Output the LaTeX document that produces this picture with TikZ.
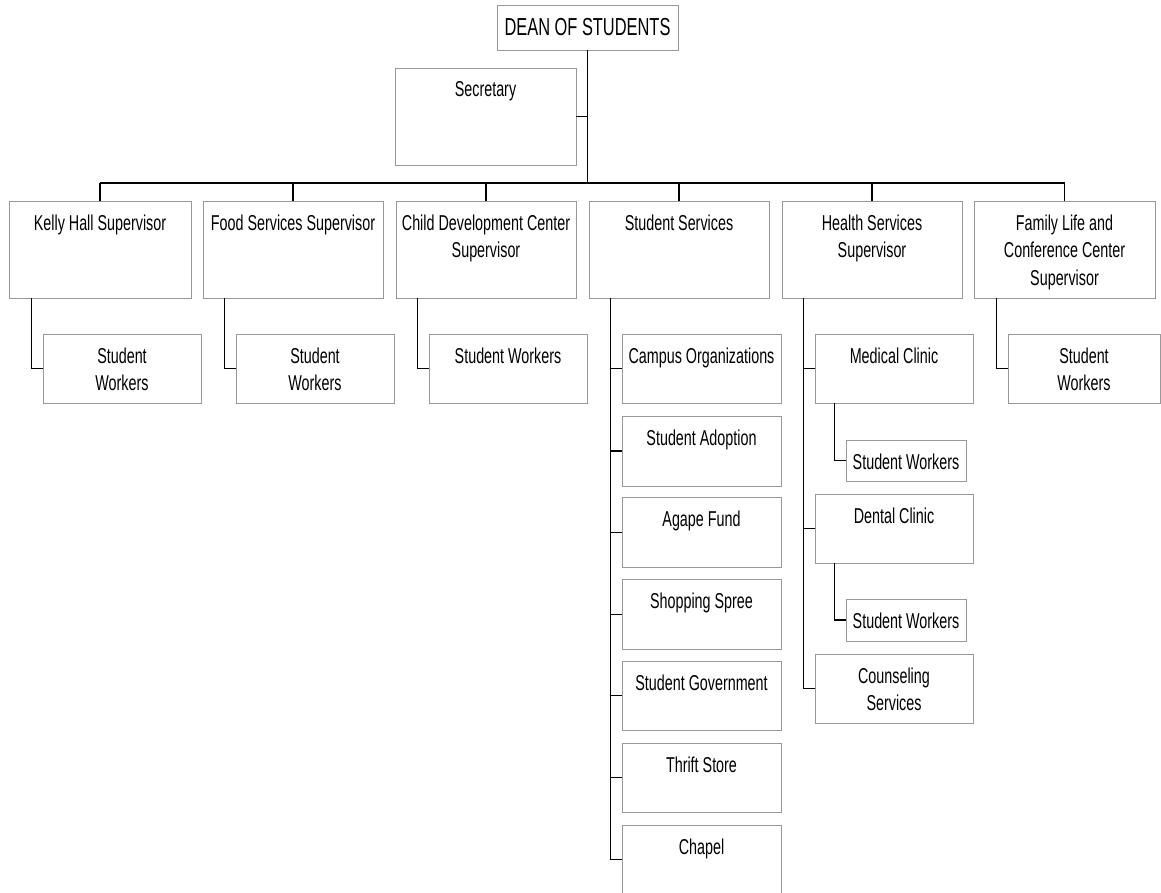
\documentclass[tikz,border=0pt]{standalone}
\usepackage{fontspec}
\setmainfont{Liberation Sans}[FakeStretch=0.667]
\newcommand{\bxt}[3]{\parbox[c][#2pt][t]{#1pt}{\centering\vspace*{13.5pt}#3\par}}
\begin{document}
\begin{tikzpicture}[x=1pt,y=-1pt,
  font=\fontsize{21.5}{27.5}\selectfont,
  box/.style={draw=gray!80,line width=1pt,inner sep=0pt,outer sep=0pt,anchor=north west,fill=white},
  conn/.style={draw=black,line width=1.4pt}]
\fill[white] (0,0) rectangle (1161,892);
\useasboundingbox (0,0) rectangle (1161,892);
\clip (0,0) rectangle (1161,892);
% top
\node[box,minimum width=181pt,minimum height=45pt,font=\fontsize{24.6}{28}\selectfont] (dean) at (497,5) {DEAN OF STUDENTS};
\node[box] (sec) at (395,68) {\bxt{181}{97}{Secretary}};
% second level
\node[box] (kelly)  at (9,201)   {\bxt{182}{97}{Kelly Hall Supervisor}};
\node[box] (food)   at (203,201) {\bxt{180}{97}{Food Services Supervisor}};
\node[box] (child)  at (396,201) {\bxt{180}{97}{Child Development Center\\Supervisor}};
\node[box] (ss)     at (589,201) {\bxt{180}{97}{Student Services}};
\node[box] (health) at (782,201) {\bxt{180}{97}{Health Services\\Supervisor}};
\node[box] (family) at (974,201) {\bxt{181}{97}{Family Life and\\Conference Center\\Supervisor}};
% workers
\node[box] (kw)   at (43,334)   {\bxt{158}{69}{Student\\Workers}};
\node[box] (fw)   at (236,334)  {\bxt{158}{69}{Student\\Workers}};
\node[box] (cw)   at (429,334)  {\bxt{158}{69}{Student Workers}};
\node[box] (famw) at (1008,334) {\bxt{152}{69}{Student\\Workers}};
% student services column
\node[box] (campus)   at (622,334)   {\bxt{159}{69}{Campus Organizations}};
\node[box] (adoption) at (622,416)   {\bxt{159}{70}{Student Adoption}};
\node[box] (agape)    at (622,497.5) {\bxt{159}{69.5}{Agape Fund}};
\node[box] (shopping) at (622,579.5) {\bxt{159}{69.5}{Shopping Spree}};
\node[box] (gov)      at (622,661)   {\bxt{159}{69.5}{Student Government}};
\node[box] (thrift)   at (622,743)   {\bxt{159}{69.5}{Thrift Store}};
\node[box] (chapel)   at (622,825)   {\bxt{159}{69}{Chapel}};
% health column
\node[box] (medical) at (815,334) {\bxt{158}{69}{Medical Clinic}};
\node[box] (medw)    at (846,440) {\bxt{120}{41}{Student Workers}};
\node[box] (dental)  at (815,494) {\bxt{158}{69}{Dental Clinic}};
\node[box] (dentw)   at (846,599) {\bxt{120}{42}{Student Workers}};
\node[box] (counsel) at (815,654) {\bxt{158}{69}{Counseling\\Services}};
% connectors
\coordinate (bus) at (0,183);
\draw[conn] (dean.south) -- (dean.south |- bus);
\draw[conn] (sec.east) -- (sec.east -| dean.south);
\draw[conn] (kelly.north |- bus) -- (family.north |- bus);
\foreach \n in {kelly,food,child,ss,health,family}
  \draw[conn] (\n.north) -- (\n.north |- bus);
\draw[conn] ([xshift=22.5pt]kelly.south west) |- (kw.west);
\draw[conn] ([xshift=21.5pt]food.south west) |- (fw.west);
\draw[conn] ([xshift=21.5pt]child.south west) |- (cw.west);
\draw[conn] ([xshift=22.5pt]family.south west) |- (famw.west);
\coordinate (sx) at ([xshift=21.7pt]ss.south west);
\draw[conn] (sx) |- (chapel.west);
\foreach \n in {campus,adoption,agape,shopping,gov,thrift}
  \draw[conn] (\n.west -| sx) -- (\n.west);
\coordinate (hx) at ([xshift=21.5pt]health.south west);
\draw[conn] (hx) |- (counsel.west);
\foreach \n in {medical,dental}
  \draw[conn] (\n.west -| hx) -- (\n.west);
\draw[conn] ([xshift=19.3pt]medical.south west) |- (medw.west);
\draw[conn] ([xshift=19.3pt]dental.south west) |- (dentw.west);
\end{tikzpicture}
\end{document}
